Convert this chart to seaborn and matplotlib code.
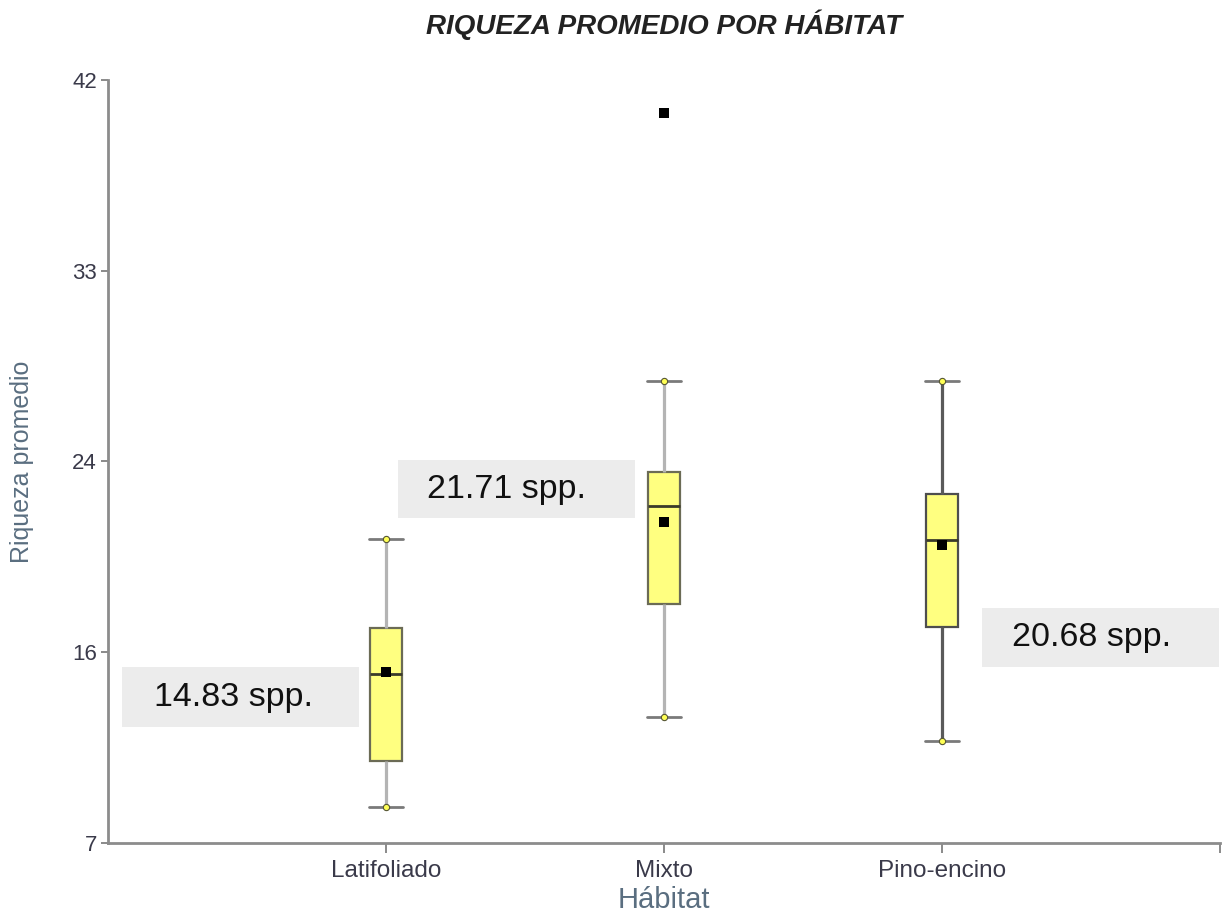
import numpy as np
import pandas as pd
import matplotlib
matplotlib.use("Agg")
import matplotlib.pyplot as plt
from matplotlib.patches import Rectangle
import seaborn as sns

# Five-number summaries of species richness per habitat
habitats = ["Latifoliado", "Mixto", "Pino-encino"]
whisker_lo = [8.65, 12.8, 11.7]
q1 = [10.75, 17.95, 16.9]
medians = [14.75, 22.45, 20.9]
q3 = [16.85, 24.0, 23.0]
whisker_hi = [20.95, 28.2, 28.2]
means = [14.83, 21.71, 20.68]

outlier_habitat = ["Mixto"]
outlier_values = [40.5]

y_ticks = np.linspace(7, 42, 5)
y_tick_labels = [str(round(v)) for v in y_ticks]

title = "RIQUEZA PROMEDIO POR HÁBITAT"
x_label = "Hábitat"
y_label = "Riqueza promedio"

# Annotation boxes for the means: (left x, bottom y, width, height, text x)
label_boxes = [
    (-0.949, 12.32, 0.852, 2.75, -0.835),
    (0.043, 21.91, 0.852, 2.65, 0.147),
    (2.144, 15.07, 0.852, 2.71, 2.252),
]

whisker_colors = ["#b4b4b4", "#b4b4b4", "#5a5a5a"]
box_edges = ["#6b6b55", "#6b6b55", "#4e4e4e"]

rows = []
for h, a, b, c, d, e in zip(habitats, whisker_lo, q1, medians, q3, whisker_hi):
    for v in (a, b, c, d, e):
        rows.append({"habitat": h, "riqueza": v})
df = pd.DataFrame(rows)

sns.set_style("white")
plt.rcParams["font.family"] = ["Liberation Sans", "DejaVu Sans"]

fig = plt.figure(figsize=(12.26, 9.17), dpi=100)
ax = fig.add_axes([0.0881, 0.0807, 0.9070, 0.8321])

for h, wc, ec in zip(habitats, whisker_colors, box_edges):
    sub = df[df["habitat"] == h]
    sns.boxplot(
        data=sub, x="habitat", y="riqueza", order=habitats,
        whis=(0, 100), width=0.112, color="#ffff80", saturation=1,
        linecolor=ec, linewidth=1.6, showfliers=False,
        whiskerprops=dict(color=wc, linewidth=2.3),
        capprops=dict(color="#7a7a7a", linewidth=2.0),
        medianprops=dict(color="#3a3a2a", linewidth=2.0),
        capwidths=0.125,
        ax=ax,
    )

# Whisker end points
ends = pd.DataFrame({
    "habitat": habitats * 2,
    "riqueza": whisker_lo + whisker_hi,
})
sns.stripplot(data=ends, x="habitat", y="riqueza", order=habitats,
              jitter=False, marker="o", size=4.5, color="#ffff55",
              edgecolor="#555533", linewidth=0.8, zorder=5, ax=ax)

# Means
mean_df = pd.DataFrame({"habitat": habitats, "riqueza": means})
sns.stripplot(data=mean_df, x="habitat", y="riqueza", order=habitats,
              jitter=False, marker="s", size=6.5, color="black",
              linewidth=0, zorder=6, ax=ax)

# Outlier
out_df = pd.DataFrame({"habitat": outlier_habitat, "riqueza": outlier_values})
sns.stripplot(data=out_df, x="habitat", y="riqueza", order=habitats,
              jitter=False, marker="s", size=6.5, color="black",
              linewidth=0, zorder=6, ax=ax)

# Mean annotations
for (x0, y0, w, hgt, tx), m in zip(label_boxes, means):
    ax.add_patch(Rectangle((x0, y0), w, hgt, facecolor="#ececec",
                           edgecolor="none", zorder=1, clip_on=False))
    ax.text(tx, y0 + hgt / 2, f"{m:.2f} spp.", ha="left", va="center",
            fontsize=24.5, color="#111111", zorder=7)

ax.set_xlim(-1, 3)
ax.set_ylim(7, 42)
ax.set_yticks(y_ticks)
ax.set_yticklabels(y_tick_labels)
ax.set_xticks([0, 1, 2, 3])
ax.set_xticklabels(habitats + [""])

for side in ("top", "right"):
    ax.spines[side].set_visible(False)
for side in ("left", "bottom"):
    ax.spines[side].set_color("#8c8c8c")
    ax.spines[side].set_linewidth(2.0)

ax.tick_params(axis="y", direction="out", length=5, width=1.2,
               color="#777777", pad=3, labelsize=16, labelcolor="#3a3a4a",
               left=True)
ax.tick_params(axis="x", direction="out", length=7, width=1.2,
               color="#777777", pad=5, labelsize=17.5, labelcolor="#3a3a4a",
               bottom=True)

ax.set_xlabel(x_label, fontsize=21, color="#5a6e80", va="top")
ax.xaxis.set_label_coords(0.5, -0.056)
ax.set_ylabel(y_label, fontsize=18, color="#5a6e80")
ax.yaxis.set_label_coords(-0.067, 0.5)

ax.set_title(title, fontsize=20, fontweight="bold", fontstyle="italic",
             color="#222222", pad=33)

fig.savefig("out.png", dpi=100)
